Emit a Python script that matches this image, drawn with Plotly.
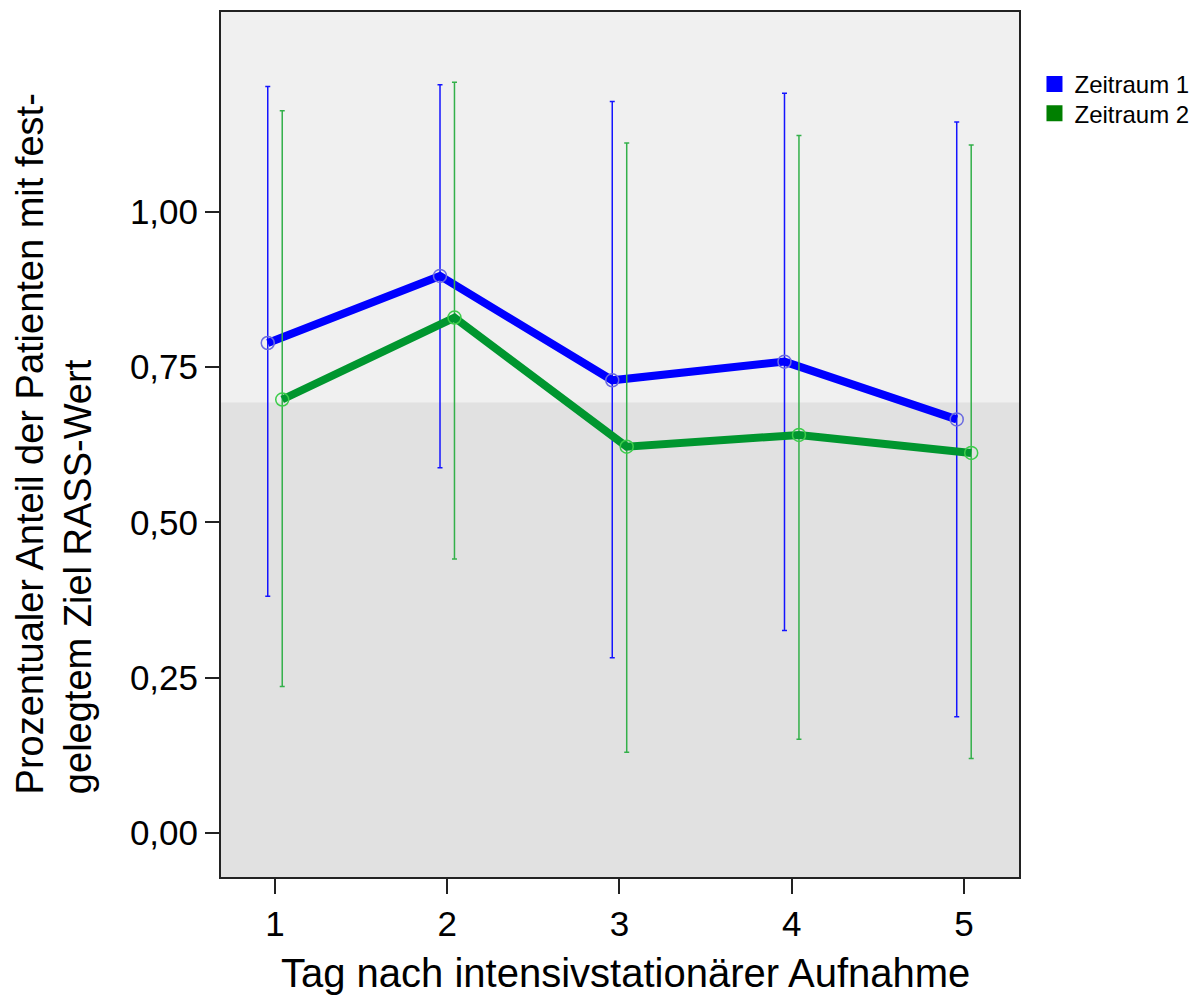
import plotly.graph_objects as go

# ---- data ----
days = [1, 2, 3, 4, 5]
series_names = ["Zeitraum 1", "Zeitraum 2"]
mean_z1 = [0.789, 0.897, 0.729, 0.759, 0.666]
upper_z1 = [1.202, 1.205, 1.178, 1.191, 1.145]
lower_z1 = [0.381, 0.588, 0.282, 0.326, 0.187]
mean_z2 = [0.698, 0.830, 0.622, 0.641, 0.612]
upper_z2 = [1.163, 1.209, 1.111, 1.123, 1.108]
lower_z2 = [0.236, 0.441, 0.130, 0.151, 0.120]
y_ticks = [0.0, 0.25, 0.5, 0.75, 1.0]
shade_split = 0.693  # boundary of the two background shades

# ---- styles ----
FONT = "Liberation Sans, Arial, sans-serif"
offsets = [-0.042, 0.042]
line_colors = ["#0000ff", "#00962f"]
marker_colors = ["#6a6ae0", "#3ccc4a"]
err_colors = ["#1414ff", "#33b04a"]
legend_colors = ["#0000ff", "#007f00"]
legend_names = ["legend", "legend2"]
legend_y = [0.9422, 0.9086]
x_range = [0.6865, 5.3195]
y_range = [-0.0709, 1.322]

fig = go.Figure()

series = [(mean_z1, upper_z1, lower_z1), (mean_z2, upper_z2, lower_z2)]
for i, (m, up, lo) in enumerate(series):
    xs = [d + offsets[i] for d in days]
    fig.add_trace(go.Scatter(
        x=xs, y=m, mode="lines+markers", showlegend=False,
        line=dict(color=line_colors[i], width=8),
        marker=dict(symbol="circle-open", size=13, color=marker_colors[i],
                    line=dict(width=1.5, color=marker_colors[i])),
        error_y=dict(type="data", symmetric=False,
                     array=[u - v for u, v in zip(up, m)],
                     arrayminus=[v - l for v, l in zip(m, lo)],
                     color=err_colors[i], thickness=1.5, width=2.5),
        hoverinfo="skip",
    ))

for i, name in enumerate(series_names):
    fig.add_trace(go.Scatter(
        x=[None], y=[None], mode="markers", name=name, legend=legend_names[i],
        marker=dict(symbol="square", size=16, color=legend_colors[i]),
    ))

# background shading (lighter upper band)
fig.add_shape(type="rect", xref="paper", yref="y", x0=0, x1=1,
              y0=shade_split, y1=y_range[1], fillcolor="#f0f0f0",
              line=dict(width=0), layer="below")

fig.add_annotation(text="Tag nach intensivstationärer Aufnahme",
                   xref="paper", yref="paper", x=0.5063, y=-0.0835,
                   xanchor="center", yanchor="top", showarrow=False,
                   font=dict(family=FONT, size=40, color="#000"))
fig.add_annotation(text="Prozentualer Anteil der Patienten mit fest-",
                   xref="paper", yref="paper", x=-0.24, y=0.0931,
                   xanchor="center", yanchor="bottom", showarrow=False,
                   textangle=-90,
                   font=dict(family=FONT, size=38, color="#000"))
fig.add_annotation(text="gelegtem Ziel RASS-Wert",
                   xref="paper", yref="paper", x=-0.179, y=0.0931,
                   xanchor="center", yanchor="bottom", showarrow=False,
                   textangle=-90,
                   font=dict(family=FONT, size=38, color="#000"))

legend_style = dict(xanchor="left", yanchor="top", bgcolor="rgba(0,0,0,0)",
                    font=dict(family=FONT, size=24, color="#000"),
                    itemsizing="trace")

fig.update_layout(
    width=1202, height=995,
    margin=dict(l=221, r=183, t=12, b=118, autoexpand=False),
    paper_bgcolor="#ffffff", plot_bgcolor="#e1e1e1",
    separators=",.",
    font=dict(family=FONT, color="#000"),
    legend=dict(x=1.0194, y=legend_y[0], **legend_style),
    legend2=dict(x=1.0194, y=legend_y[1], **legend_style),
    xaxis=dict(range=x_range, tickvals=days, ticktext=[str(d) for d in days],
               showgrid=False, zeroline=False, showline=True, mirror=True,
               linecolor="#222", linewidth=2, ticks="outside", ticklen=15,
               tickwidth=1.5, tickcolor="#222",
               tickfont=dict(family=FONT, size=35, color="#000")),
    yaxis=dict(range=y_range, tickvals=y_ticks, tickformat=".2f",
               showgrid=False, zeroline=False, showline=True, mirror=True,
               linecolor="#222", linewidth=2, ticks="outside", ticklen=14,
               tickwidth=1.5, tickcolor="#222",
               tickfont=dict(family=FONT, size=35, color="#000")),
)

fig.write_html("out.html")
